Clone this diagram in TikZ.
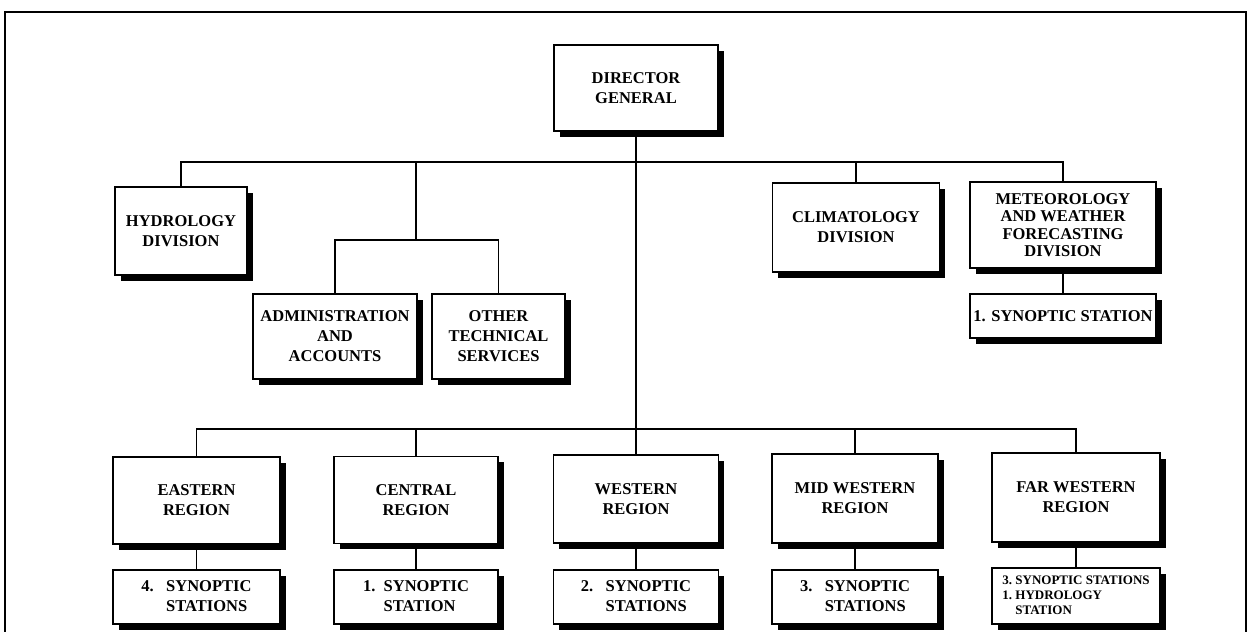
\documentclass[tikz,border=0pt]{standalone}
\usepackage{fontspec}
\setmainfont{Liberation Serif}
\usetikzlibrary{shadows,backgrounds}
\begin{document}
\begin{tikzpicture}[x=1pt,y=-1pt,
  orgbox/.style={draw=black, line width=1.8pt, fill=white, inner sep=0pt, outer sep=0pt,
    align=center, font=\bfseries\fontsize{16.5}{20}\selectfont,
    general shadow={fill=black, shadow xshift=5.5pt, shadow yshift=-5.5pt}},
  link/.style={line width=1.8pt, line cap=rect}]
\useasboundingbox (0,0) rectangle (1248,632);
% frame
\draw[line width=2.5pt] (5,640) -- (5,12) -- (1246,12) -- (1246,640);

% nodes
\node[orgbox, minimum width=164pt, minimum height=86pt] (dg) at (636,88) {DIRECTOR\\GENERAL};
\node[orgbox, minimum width=132pt, minimum height=88pt] (hyd) at (181,231) {HYDROLOGY\\DIVISION};
\node[orgbox, minimum width=167pt, minimum height=89pt] (clim) at (856,227.5) {CLIMATOLOGY\\DIVISION};
\node[orgbox, minimum width=186pt, minimum height=86pt, font=\bfseries\fontsize{16.5}{17.5}\selectfont] (met) at (1063,225) {METEOROLOGY\\AND WEATHER\\FORECASTING\\DIVISION};
\node[orgbox, minimum width=186pt, minimum height=44pt] (syn0) at (1063,316) {1. SYNOPTIC STATION};
\node[orgbox, minimum width=164pt, minimum height=85pt] (admin) at (335,336.5) {ADMINISTRATION\\AND\\ACCOUNTS};
\node[orgbox, minimum width=133pt, minimum height=85pt] (other) at (498.5,336.5) {OTHER\\TECHNICAL\\SERVICES};

\node[orgbox, minimum width=167pt, minimum height=87pt] (east) at (196.5,500.5) {EASTERN\\REGION};
\node[orgbox, minimum width=164pt, minimum height=87pt] (central) at (416,500) {CENTRAL\\REGION};
\node[orgbox, minimum width=165pt, minimum height=88pt] (west) at (636,499) {WESTERN\\REGION};
\node[orgbox, minimum width=166pt, minimum height=89pt] (midwest) at (855,498.5) {MID WESTERN\\REGION};
\node[orgbox, minimum width=168pt, minimum height=89pt] (farwest) at (1076,497.5) {FAR WESTERN\\REGION};

\node[orgbox, minimum width=167pt, minimum height=54pt] (seast) at (196.5,597) {\begin{tabular}{@{}l@{\ \ \ }l@{}}4. & SYNOPTIC\\ & STATIONS\end{tabular}};
\node[orgbox, minimum width=164pt, minimum height=54pt] (scentral) at (416,597) {\begin{tabular}{@{}l@{\ \ }l@{}}1. & SYNOPTIC\\ & STATION\end{tabular}};
\node[orgbox, minimum width=165pt, minimum height=54pt] (swest) at (636,597) {\begin{tabular}{@{}l@{\ \ \ }l@{}}2. & SYNOPTIC\\ & STATIONS\end{tabular}};
\node[orgbox, minimum width=166pt, minimum height=54pt] (smidwest) at (855,597) {\begin{tabular}{@{}l@{\ \ \ }l@{}}3. & SYNOPTIC\\ & STATIONS\end{tabular}};
\node[orgbox, minimum width=168pt, minimum height=56pt, font=\bfseries\fontsize{13}{15}\selectfont] (sfarwest) at (1076,596) {\begin{tabular}{@{}l@{\ }l@{}}3. & SYNOPTIC STATIONS\\1. & HYDROLOGY\\ & STATION\end{tabular}};

% bus coordinates
\coordinate (ub) at (636,162);
\coordinate (sb) at (416,240);
\coordinate (lb) at (636,429);

% connectors
\begin{scope}[on background layer]
\draw[link] (dg.south) -- (west.north);
\draw[link] (hyd.north) |- (met.north |- ub) -- (met.north);
\draw[link] (clim.north) -- (clim.north |- ub);
\draw[link] (ub -| sb) -- (sb);
\draw[link] (admin.north) |- (other.north |- sb) -- (other.north);
\draw[link] (east.north) |- (farwest.north |- lb) -- (farwest.north);
\draw[link] (central.north) -- (central.north |- lb);
\draw[link] (midwest.north) -- (midwest.north |- lb);
\draw[link] (met.south) -- (syn0.north);
\draw[link] (east.south) -- (seast.north);
\draw[link] (central.south) -- (scentral.north);
\draw[link] (west.south) -- (swest.north);
\draw[link] (midwest.south) -- (smidwest.north);
\draw[link] (farwest.south) -- (sfarwest.north);
\end{scope}
\end{tikzpicture}
\end{document}
